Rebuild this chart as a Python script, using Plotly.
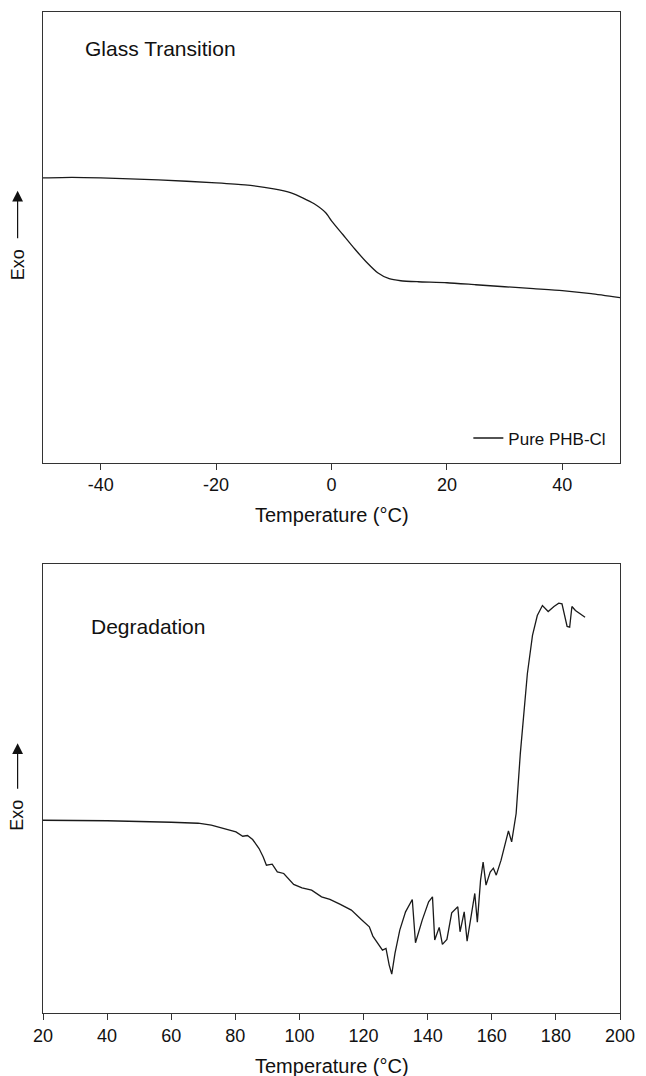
import plotly.graph_objects as go

# ---- Top panel: glass transition (heat flow, arbitrary units) ----
gt_temp = [-50, -45, -40, -30, -20, -15, -10, -7, -5, -3, -1, 0, 2, 4, 6, 8, 10, 12, 15, 20, 25, 30, 35, 40, 45, 50]
gt_flow = [28.5, 28.55, 28.5, 28.3, 28.0, 27.8, 27.4, 27.0, 26.5, 25.9, 25.0, 24.2, 22.8, 21.4, 20.1, 19.0,
           18.4, 18.2, 18.1, 18.0, 17.8, 17.6, 17.4, 17.2, 16.9, 16.5]

# ---- Bottom panel: degradation (heat flow, arbitrary units) ----
dg_temp = [20, 40, 60, 68.4, 72.5, 77.6, 80.2, 82.3, 83.8, 85.4, 87.4, 88.7, 89.7, 91.5, 93.1, 95.1, 98.2,
           100.8, 103.8, 106.9, 109.5, 112.6, 116.2, 119.3, 121.8, 122.9, 124.4, 125.9, 127.0, 128.0, 128.8,
           129.8, 131.3, 133.1, 135.2, 136.2, 138.3, 140.3, 141.5, 142.2, 143.6, 144.6, 146.0, 147.5, 149.4,
           150.1, 151.4, 152.3, 154.7, 155.5, 156.5, 157.3, 158.2, 159.5, 160.5, 161.4, 162.9, 164.2, 165.2,
           166.2, 167.6, 168.9, 169.9, 171.1, 172.7, 174.2, 175.8, 177.6, 179.4, 180.9, 181.9, 182.8, 183.5,
           184.3, 185.0, 186.1, 189.1]
dg_flow = [19.3, 19.25, 19.1, 19.0, 18.8, 18.37, 18.13, 17.7, 17.77, 17.37, 16.47, 15.63, 14.8, 14.9, 14.13,
           13.97, 12.87, 12.53, 12.3, 11.63, 11.37, 10.9, 10.3, 9.37, 8.63, 7.7, 6.97, 6.3, 6.47, 4.8, 3.9,
           5.97, 8.3, 10.13, 11.37, 7.03, 9.3, 11.13, 11.63, 7.3, 8.57, 6.87, 7.37, 10.03, 10.63, 8.13, 10.13,
           7.2, 11.97, 9.1, 13.3, 15.1, 12.8, 14.1, 14.5, 13.8, 15.3, 16.8, 18.23, 17.13, 19.97, 25.97, 29.97,
           33.97, 37.8, 39.8, 40.8, 40.2, 40.7, 41.03, 40.97, 39.63, 38.7, 38.63, 40.7, 40.3, 39.63]

top_ticks = [-40, -20, 0, 20, 40]
top_tick_text = ["-40", "-20", "0", "20", "40"]
bottom_ticks = [20, 40, 60, 80, 100, 120, 140, 160, 180, 200]
bottom_tick_text = ["20", "40", "60", "80", "100", "120", "140", "160", "180", "200"]

FONT = "Liberation Sans, Arial, sans-serif"
LINE = "#1a1a1a"
AX = "#333333"

fig = go.Figure()
fig.add_trace(go.Scatter(x=gt_temp, y=gt_flow, mode="lines", name="Pure PHB-Cl",
                         line=dict(color=LINE, width=1.3, shape="spline", smoothing=0.6),
                         xaxis="x", yaxis="y", showlegend=True))
fig.add_trace(go.Scatter(x=dg_temp, y=dg_flow, mode="lines", name="Pure PHB-Cl",
                         line=dict(color=LINE, width=1.3),
                         xaxis="x2", yaxis="y2", showlegend=False))

axis_common = dict(showline=True, linecolor=AX, linewidth=1.3, mirror=True, showgrid=False,
                   zeroline=False)

fig.update_layout(
    width=646, height=1076,
    margin=dict(l=43, r=17, t=11, b=63),
    paper_bgcolor="white", plot_bgcolor="white",
    font=dict(family=FONT, color="#111111", size=18),
    xaxis=dict(domain=[0, 1], anchor="y", range=[-50, 50], tickvals=top_ticks, ticktext=top_tick_text,
               ticks="outside", ticklen=6, tickcolor=AX, tickfont=dict(size=18), **axis_common),
    yaxis=dict(domain=[0.5499, 1], anchor="x", range=[0, 45.1], showticklabels=False,
               ticks="", **axis_common),
    xaxis2=dict(domain=[0, 1], anchor="y2", range=[20, 200], tickvals=bottom_ticks,
                ticktext=bottom_tick_text,
                ticks="outside", ticklen=6, tickcolor=AX, tickfont=dict(size=18), **axis_common),
    yaxis2=dict(domain=[0, 0.449], anchor="x2", range=[0, 45.0], showticklabels=False,
                ticks="", **axis_common),
    legend=dict(x=0.985, xanchor="right", y=0.574, yanchor="middle", bgcolor="rgba(0,0,0,0)",
                font=dict(size=17), itemwidth=30),
)

annotations = [
    dict(text="Glass Transition", xref="x domain", yref="y domain", x=0.07, y=0.918,
         xanchor="left", yanchor="middle", showarrow=False, font=dict(size=21)),
    dict(text="Degradation", xref="x2 domain", yref="y2 domain", x=0.08, y=0.86,
         xanchor="left", yanchor="middle", showarrow=False, font=dict(size=21)),
    dict(text="Temperature (°C)", xref="paper", yref="paper", x=0.5, y=0.498,
         xanchor="center", yanchor="middle", showarrow=False, font=dict(size=20)),
    dict(text="Temperature (°C)", xref="paper", yref="paper", x=0.5, y=-0.053,
         xanchor="center", yanchor="middle", showarrow=False, font=dict(size=20)),
    dict(text="Exo", xref="paper", yref="paper", x=-0.044, y=0.7475, textangle=-90,
         xanchor="center", yanchor="middle", showarrow=False, font=dict(size=18)),
    dict(text="Exo", xref="paper", yref="paper", x=-0.044, y=0.1976, textangle=-90,
         xanchor="center", yanchor="middle", showarrow=False, font=dict(size=18)),
    dict(text="", xref="paper", yref="paper", x=-0.044, y=0.8214, ax=0, ay=49,
         showarrow=True, arrowhead=2, arrowsize=1.8, arrowwidth=1.2, arrowcolor="#111111"),
    dict(text="", xref="paper", yref="paper", x=-0.044, y=0.2695, ax=0, ay=47,
         showarrow=True, arrowhead=2, arrowsize=1.8, arrowwidth=1.2, arrowcolor="#111111"),
]
fig.update_layout(annotations=annotations)

fig.write_html("out.html")
